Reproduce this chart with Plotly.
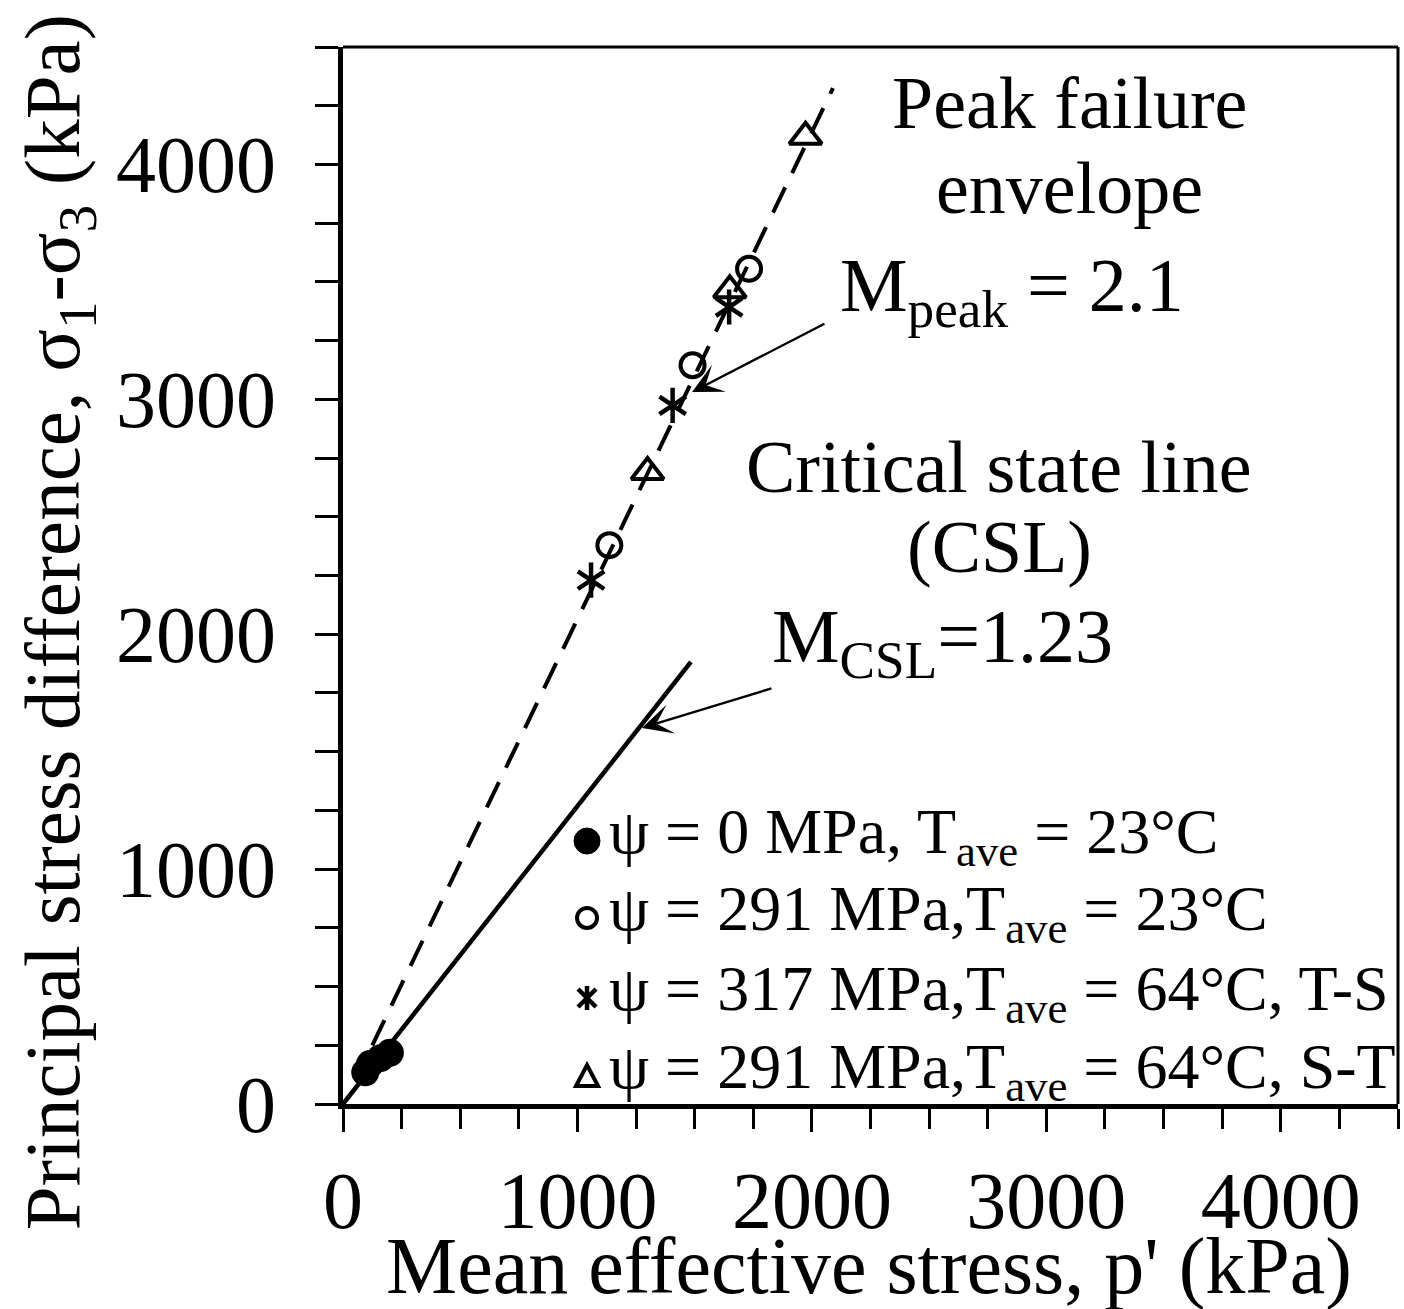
import plotly.graph_objects as go

# ---- data (kPa) ----
p_sat = [95, 115, 160, 200]
q_sat = [135, 170, 195, 218]

p_291_23 = [1136, 1491, 1732]
q_291_23 = [2379, 3145, 3556]

p_317_64 = [1058, 1406, 1647]
q_317_64 = [2230, 2974, 3393]

p_291_64 = [1299, 1650, 1973]
q_291_64 = [2691, 3464, 4118]

peak_p = [125, 2090]
peak_q = [250, 4325]

csl_p = [0, 1484]
csl_q = [0, 1882]

names = [
    "ψ = 0 MPa, T<sub>ave</sub> = 23°C",
    "ψ = 291 MPa,T<sub>ave</sub> = 23°C",
    "ψ = 317 MPa,T<sub>ave</sub> = 64°C, T-S",
    "ψ = 291 MPa,T<sub>ave</sub> = 64°C, S-T",
]

FONT = "Liberation Serif, Times New Roman, serif"

fig = go.Figure()

fig.add_trace(go.Scatter(x=peak_p, y=peak_q, mode="lines", showlegend=False,
                         line=dict(color="black", width=4, dash="28px,16px")))
fig.add_trace(go.Scatter(x=csl_p, y=csl_q, mode="lines", showlegend=False,
                         line=dict(color="black", width=4.5)))

fig.add_trace(go.Scatter(x=p_sat, y=q_sat, mode="markers", name=names[0], showlegend=False,
                         marker=dict(symbol="circle", size=28, color="black")))
fig.add_trace(go.Scatter(x=p_291_23, y=q_291_23, mode="markers", name=names[1], showlegend=False,
                         marker=dict(symbol="circle-open", size=24, color="black",
                                     line=dict(width=4, color="black"))))
for sym in ["y-up-open", "y-down-open"]:
    fig.add_trace(go.Scatter(x=p_317_64, y=q_317_64, mode="markers", name=names[2],
                             showlegend=False,
                             marker=dict(symbol=sym, size=22, color="black",
                                         line=dict(width=4.5, color="black"))))
fig.add_trace(go.Scatter(x=p_291_64, y=q_291_64, mode="markers", name=names[3], showlegend=False,
                         marker=dict(symbol="triangle-up-open", size=28, color="black",
                                     line=dict(width=4, color="black"))))

# text labels
def txt(x, y, s, size=74):
    fig.add_annotation(x=x, y=y, xref="x", yref="y", text=s, showarrow=False,
                       font=dict(family=FONT, size=size, color="black"),
                       xanchor="center", yanchor="middle")

txt(3100, 4260, "Peak failure")
txt(3100, 3900, "envelope")
txt(2855, 3460, "M<sub>peak</sub> = 2.1", size=76)
txt(2800, 2710, "Critical state line")
txt(2800, 2370, "(CSL)")
txt(2555, 1965, "M<sub>CSL</sub>=1.23", size=76)

# arrows
fig.add_annotation(x=1489, y=3031, ax=2060, ay=3325, xref="x", yref="y",
                   axref="x", ayref="y", text="", showarrow=True,
                   arrowhead=3, arrowsize=2.1, arrowwidth=2.4, arrowcolor="black")
fig.add_annotation(x=1275, y=1601, ax=1834, ay=1771, xref="x", yref="y",
                   axref="x", ayref="y", text="", showarrow=True,
                   arrowhead=3, arrowsize=2.1, arrowwidth=2.4, arrowcolor="black")

# ---- legend (drawn manually for spacing) ----
leg_x_sym = 0.2313
leg_x_txt = 0.2500
leg_rows = [0.2488, 0.1760, 0.1003, 0.0265]
for yy, nm in zip(leg_rows, names):
    fig.add_annotation(x=leg_x_txt, y=yy + 0.005, xref="paper", yref="paper", text=nm,
                       showarrow=False, xanchor="left", yanchor="middle",
                       font=dict(family=FONT, size=64, color="black"))

def sym_shape(yy, **kw):
    fig.add_shape(xref="paper", yref="paper", xsizemode="pixel", ysizemode="pixel",
                  xanchor=leg_x_sym, yanchor=yy, **kw)

sym_shape(leg_rows[0], type="circle", x0=-13, x1=13, y0=-13, y1=13,
          fillcolor="black", line=dict(color="black", width=1))
sym_shape(leg_rows[1], type="circle", x0=-10, x1=10, y0=-10, y1=10,
          line=dict(color="black", width=4))
sym_shape(leg_rows[2], type="path",
          path="M 0,-12 L 0,12 M -9,-9 L 9,9 M -9,9 L 9,-9",
          line=dict(color="black", width=4.5))
sym_shape(leg_rows[3], type="path",
          path="M -11,-10 L 11,-10 L 0,11 Z",
          line=dict(color="black", width=4))

# axis titles
fig.add_annotation(x=0.4986, y=-0.154, xref="paper", yref="paper",
                   text="Mean effective stress, p' (kPa)", showarrow=False,
                   font=dict(family=FONT, size=80, color="black"),
                   xanchor="center", yanchor="middle")
fig.add_annotation(x=-0.270, y=0.456, xref="paper", yref="paper",
                   text="Principal stress difference, σ<sub>1</sub>-σ<sub>3</sub> (kPa)",
                   showarrow=False, textangle=-90,
                   font=dict(family=FONT, size=79, color="black"),
                   xanchor="center", yanchor="middle")

# frame top/right (thinner)
fig.add_shape(type="line", xref="paper", yref="paper", x0=0, x1=1, y0=1, y1=1,
              line=dict(color="black", width=3))
fig.add_shape(type="line", xref="paper", yref="paper", x0=1, x1=1, y0=0, y1=1,
              line=dict(color="black", width=3))

axis_common = dict(
    showgrid=False, zeroline=False, showline=True, linecolor="black", linewidth=5,
    ticks="outside", tickcolor="black", tickwidth=3,
    tickfont=dict(family=FONT, size=80, color="black"),
)

fig.update_xaxes(range=[0, 4500], dtick=1000, tick0=0, ticklen=23,
                 ticklabelstandoff=0,
                 minor=dict(dtick=250, ticks="outside", ticklen=20, tickwidth=3,
                            tickcolor="black"),
                 **axis_common)
fig.update_yaxes(range=[0, 4500], dtick=1000, tick0=0, ticklen=23,
                 ticklabelstandoff=23,
                 minor=dict(dtick=250, ticks="outside", ticklen=23, tickwidth=3,
                            tickcolor="black"),
                 **axis_common)

fig.update_layout(
    width=1404, height=1309,
    margin=dict(l=343, r=6, t=47, b=205, autoexpand=False),
    paper_bgcolor="white", plot_bgcolor="white",
    font=dict(family=FONT, color="black"),
    showlegend=False,
)

fig.write_html("out.html", config={"displayModeBar": False},
               post_script="document.body.style.margin='0';document.body.style.overflow='hidden';")
